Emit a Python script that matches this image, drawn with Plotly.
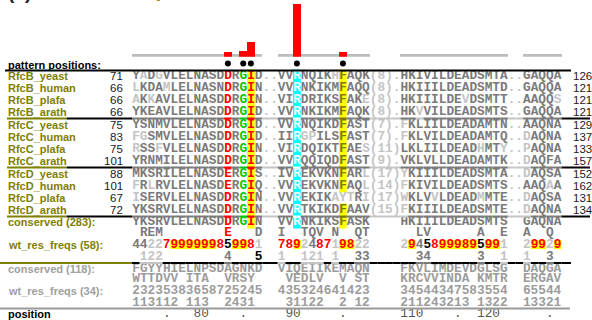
import plotly.graph_objects as go

# ---------------- data ----------------
names = ["RfcB_yeast", "RfcB_human", "RfcB_plafa", "RfcB_arath",
         "RfcC_yeast", "RfcC_human", "RfcC_plafa", "RfcC_arath",
         "RfcD_yeast", "RfcD_human", "RfcD_plafa", "RfcD_arath"]
start_pos = [71, 66, 66, 66, 75, 83, 75, 101, 88, 101, 67, 72]
end_pos = [126, 121, 121, 121, 129, 137, 133, 157, 152, 162, 131, 134]
seqs = [
    "YADGVLELNASDDRGID..VVRNQIKHFAQK(8).HKIVILDEADSMTA..GAQQA",
    "LKDAMLELNASNDRGIN..VVRNKIKMFAQQ(8).HKIIILDEADSMTD..GAQQA",
    "AKKAVLELNASDDRGIN..VIRDRIKSFAKE(8).HKIIILDEVDSMTT..AAQQS",
    "YKEAVLELNASDDRGID..VVRNKIKMFAQK(8).HKVVILDEADSMTS..GAQQA",
    "YSNMVLELNASDDRGID..VVRNQIKDFAST(7).FKLIILDEADAMTN..AAQNA",
    "FGSMVLELNASDDRGID..IIRGPILSFAST(7).FKLVILDEADAMTQ..DAQNA",
    "RSSFVLELNASDDRGIN..VIRDQIKTFAES(11)LKLIILDEADHMTY..PAQNA",
    "YRNMILELNASDDRGID..VVRQQIQDFAST(9).VKLVLLDEADAMTK..DAQFA",
    "MKSRILELNASDERGIS..IVREKVKNFARL(17)YKIIILDEADSMTA..DAQSA",
    "FRLRVLELNASDERGIQ..VVREKVKNFAQL(14)FKIVILDEADSMTS..AAQAA",
    "ISERVLELNASDDRGIN..VVREKIKAYTRI(17)WKLVVLDEADMMTE..DAQSA",
    "YKSRVLELNASDDRGIN..VVRTKIKDFAAV(15)FKIIILDEADSMTE..DAQNA",
]
# columns of residues drawn faded (dissimilar to the consensus)
faded = [[1, 3, 26], [0, 4], [0, 2, 30, 43, 55], [37], [35],
         [0, 1, 22, 23, 35, 51], [0, 3, 30, 45, 48, 51], [51],
         [30, 35, 51], [0, 2, 30, 35, 54], [0, 26, 27, 28, 30, 35, 39, 45, 51],
         [35, 51]]

pattern_cols = [12, 14, 15, 21, 27]
pattern_res = ["DE", "G", "I", "R", "F"]
pattern_weight = [4.4, 5.7, 14.7, 52.7, 5.0]

# blocks: columns 0-16, 19-30, 35-48, 51-55
cons283 = ["YKSRVLELNASDDRGIN", "VVRNKIKSFASK", "HKIIILDEADSMTS", "GAQNA"]
alt283 = [" REM        E   D", "I  TQV N  QT", "  LV      A  E", "A  Q "]
frq283a = ["44227999999859981", "789248719822", "29458999895991", "29929"]
frq283b = [" 122        4   5", "1  121 1  33", "  34      3  1", "1  3 "]
frq283_hi = [5, 6, 7, 8, 9, 10, 13, 14, 21, 27, 28, 36, 40, 41, 42, 43, 44, 46, 47, 52, 53, 55]

cons118 = ["FGYYHIELNPSDAGNKD", "VIQEIIKEMAQN", "FKVLIMDEVDGLSG", "DAQGA"]
alt118 = ["WTTDVV ITA  VRSY ", " VEDLV  V ST", "KRCVVINDA KMTR", "ERGAV"]
frq118a = ["23235383658725245", "435324641423", "34544347583554", "65544"]
frq118b = ["113112 113  2431 ", " 31122  2 12", "211243213 1322", "13321"]

pos_tick_cols = [4, 8, 14, 20, 27, 35, 42, 45, 54]
pos_tick_text = [".", "80", ".", "90", ".", "110", ".", "120", "."]

# ---------------- layout / style ----------------
W, H = 592, 320
CW = 7.67
COL0_PX = 132.0
XR0 = -0.5 - COL0_PX / CW
XR1 = XR0 + W / CW
NCOL = 56
MID_COL = (NCOL - 1) / 2.0


def px2x(p):
    return XR0 + p / CW


def join_blocks(b):
    return b[0] + "  " + b[1] + "    " + b[2] + "  " + b[3]


GRAY = "#7a7a7a"
LIGHT = "#c4c4c4"
RED = "#ff0000"
GREEN = "#00c800"
YEL = "#ffff00"
CYAN = "#00ffff"
OLIVE = "#808000"
LOWGRAY = "#9c9c9c"
SPEC_FG = [RED, GREEN, RED, "#ffffff", "#7a7a00"]
SPEC_BG = [None, None, YEL, CYAN, YEL]
DIGIT_COLOR = {"1": LIGHT, "2": LIGHT, "3": GRAY, "4": GRAY, "5": "#000000",
               "6": "#000000", "7": RED, "8": RED, "9": RED, " ": "#000000"}

PAT_Y = 64.5
DOT_Y = 63.5
ROW_Y = [76, 88, 100, 112, 125, 137, 149, 161, 174, 186, 198, 210]
CONS_Y = 222
ALT_Y = 233
F1_Y = 244.5
F2_Y = 256.5
C118_Y = 268.5
A118_Y = 279
F118A_Y = 291
F118B_Y = 302.5
POS_Y = 314
MONO = "Liberation Mono"
SANS = "Liberation Sans"
MONO_SIZE = CW / 0.60009765625   # advance of Liberation Mono = one column

shapes = []
annotations = []
row_y, row_html = [], []


def row_text(chars, colors):
    """one monospace string per row, coloured per character"""
    out, cur, buf = [], None, ""
    for ch, col in zip(chars, colors):
        if ch == " ":
            ch = "\u00a0"
        if col != cur and buf:
            out.append("<span style='color:%s'>%s</span>" % (cur, buf))
            buf = ""
        cur = col
        buf += ch
    if buf:
        out.append("<span style='color:%s'>%s</span>" % (cur, buf))
    return "".join(out)


def add_row(y, chars, colors):
    row_y.append(y)
    row_html.append(row_text(chars, colors))


def add_cell(c, y, half, color):
    shapes.append(dict(type="rect", xref="x", yref="y", x0=c - 0.5, x1=c + 0.5,
                       y0=y - half, y1=y + half, fillcolor=color,
                       line=dict(width=0), layer="below"))


def add_line(x0, x1, y, color, width=2):
    shapes.append(dict(type="line", xref="x", yref="y", x0=x0, x1=x1, y0=y, y1=y,
                       line=dict(color=color, width=width), layer="above"))


def seq_style(ch, c, fade):
    if ch in ".()0123456789":
        return LIGHT, None
    if c in pattern_cols:
        k = pattern_cols.index(c)
        if ch in pattern_res[k]:
            return SPEC_FG[k], SPEC_BG[k]
    if c in fade:
        return LIGHT, None
    return GRAY, None


def label(text, px, y, color, size=11, bold=True, anchor="left", family=SANS):
    annotations.append(dict(x=px2x(px), y=y, xref="x", yref="y", text=text,
                            showarrow=False, xanchor=anchor, yanchor="middle",
                            borderpad=0,
                            font=dict(family=family, size=size, color=color,
                                      weight="bold" if bold else "normal")))


# ---- sequences ----
for i, s in enumerate(seqs):
    y = ROW_Y[i]
    last_in_group = i in (3, 7, 11)
    colors = []
    for c, ch in enumerate(s):
        color, bg = seq_style(ch, c, faded[i])
        colors.append(color)
        if bg:
            add_cell(c, y, 6.5, bg)
        if last_in_group:
            add_line(c - 0.5, c + 0.5, y + 6.5, color)
    add_row(y, s, colors)
    label(names[i], 7, y, OLIVE)
    label(str(start_pos[i]), 123.5, y, "#1a1a1a", size=11.5, bold=False, anchor="right")
    label(str(end_pos[i]), 572, y, "#1a1a1a", size=11.5, bold=False)
    if last_in_group:
        add_line(px2x(7), px2x(66.7), y + 6.5, OLIVE)
        add_line(px2x(66.7), -0.5, y + 6.5, "#000000")
        add_line(NCOL - 0.5, px2x(590), y + 6.5, "#000000")

# ---- consensus (283) ----
cons = join_blocks(cons283)
colors = []
for c, ch in enumerate(cons):
    color, bg = seq_style(ch, c, [])
    colors.append(color)
    if bg:
        add_cell(c, CONS_Y, 6.5, bg)
add_row(CONS_Y, cons, colors)
label("conserved (283):", 7, CONS_Y, OLIVE)

alt = join_blocks(alt283)
colors = []
for c, ch in enumerate(alt):
    color, _ = seq_style(ch, c, [])
    colors.append(color if color in (RED, GREEN) else GRAY)
add_row(ALT_Y, alt, colors)

fa = join_blocks(frq283a)
for c, ch in enumerate(fa):
    if c in frq283_hi:
        add_cell(c, F1_Y, 4.6, YEL)
add_row(F1_Y, fa, [DIGIT_COLOR[ch] for ch in fa])
label("wt_res_freqs (58):", 7, F1_Y, OLIVE)

fb = join_blocks(frq283b)
for c, ch in enumerate(fb):
    add_line(c - 0.5, c + 0.5, F2_Y + 6.5, DIGIT_COLOR[ch])
add_row(F2_Y, fb, [DIGIT_COLOR[ch] for ch in fb])
add_line(px2x(0), -0.5, F2_Y + 6.5, OLIVE)
add_line(NCOL - 0.5, px2x(571), F2_Y + 6.5, "#000000")

# ---- conserved (118) block ----
for row, y in ((cons118, C118_Y), (alt118, A118_Y), (frq118a, F118A_Y), (frq118b, F118B_Y)):
    s = join_blocks(row)
    add_row(y, s, [LOWGRAY] * len(s))
label("conserved (118):", 7, C118_Y, "#a0a0a0")
label("wt_res_freqs (34):", 7, F118A_Y, "#a0a0a0")
add_line(px2x(0), px2x(570), F118B_Y + 6, "#9a9a9a")

# ---- position ruler ----
ruler = [" "] * NCOL
for c0, t in zip(pos_tick_cols, pos_tick_text):
    for k, ch in enumerate(t):
        ruler[c0 + k] = ch
ruler_html = row_text(ruler, ["#555555"] * NCOL)
label("position", 7, POS_Y, "#000000")

# ---- pattern positions ----
label("pattern positions:", 7, PAT_Y, "#000000")
add_line(px2x(5), px2x(571), PAT_Y + 6, "#000000")

# ---- title (mostly cut off at top, as in the source figure) ----
annotations.append(dict(x=7 / W, y=1 + 7.5 / H, xref="paper", yref="paper", text="(c)",
                        showarrow=False, xanchor="left", yanchor="middle", borderpad=0,
                        font=dict(family=SANS, size=19, color="#222222", weight="bold")))
annotations.append(dict(x=42 / W, y=1 + 7.0 / H, xref="paper", yref="paper",
                        text="Motif N-RFC <span style='color:#9a8a00'>adjacent</span> to an ATP site vs. other RFCs",
                        showarrow=False, xanchor="left", yanchor="middle", borderpad=0,
                        font=dict(family=SANS, size=16, color="#b0b090", weight="bold",
                                  style="italic")))

# track columns = aligned columns of the consensus
track_cols = [c for c, ch in enumerate(cons) if ch != " "]

fig = go.Figure()
fig.add_trace(go.Bar(x=track_cols, y=[2.7] * len(track_cols), width=1, yaxis="y2",
                     marker=dict(color="#bdbdbd", line=dict(width=0))))
fig.add_trace(go.Bar(x=pattern_cols, y=pattern_weight, width=1, yaxis="y2",
                     marker=dict(color=RED, line=dict(width=0))))
fig.add_trace(go.Scatter(x=pattern_cols, y=[DOT_Y] * len(pattern_cols), mode="markers",
                         marker=dict(color="#000000", size=6), cliponaxis=False))
fig.add_trace(go.Scatter(x=[MID_COL] * len(row_y), y=row_y, text=row_html, mode="text",
                         textposition="middle center", cliponaxis=False,
                         textfont=dict(family=MONO, size=MONO_SIZE, color=GRAY, weight="bold")))
fig.add_trace(go.Scatter(x=[MID_COL], y=[POS_Y], text=[ruler_html], mode="text",
                         textposition="middle center", cliponaxis=False,
                         textfont=dict(family=MONO, size=MONO_SIZE, color="#555555")))

fig.update_layout(
    width=W, height=H, margin=dict(l=0, r=0, t=0, b=0, pad=0),
    paper_bgcolor="white", plot_bgcolor="white", showlegend=False,
    hovermode=False, barmode="overlay", bargap=0,
    xaxis=dict(range=[XR0, XR1], visible=False, fixedrange=True),
    yaxis=dict(range=[H, 0], visible=False, fixedrange=True, domain=[0, 1]),
    yaxis2=dict(range=[0, 56.7], domain=[1 - 56.7 / H, 1], visible=False,
                fixedrange=True, anchor="x"),
    shapes=shapes, annotations=annotations,
)

fig.write_html("out.html", config={"displayModeBar": False},
               post_script="document.body.style.margin='0px';document.body.style.overflow='hidden';")
